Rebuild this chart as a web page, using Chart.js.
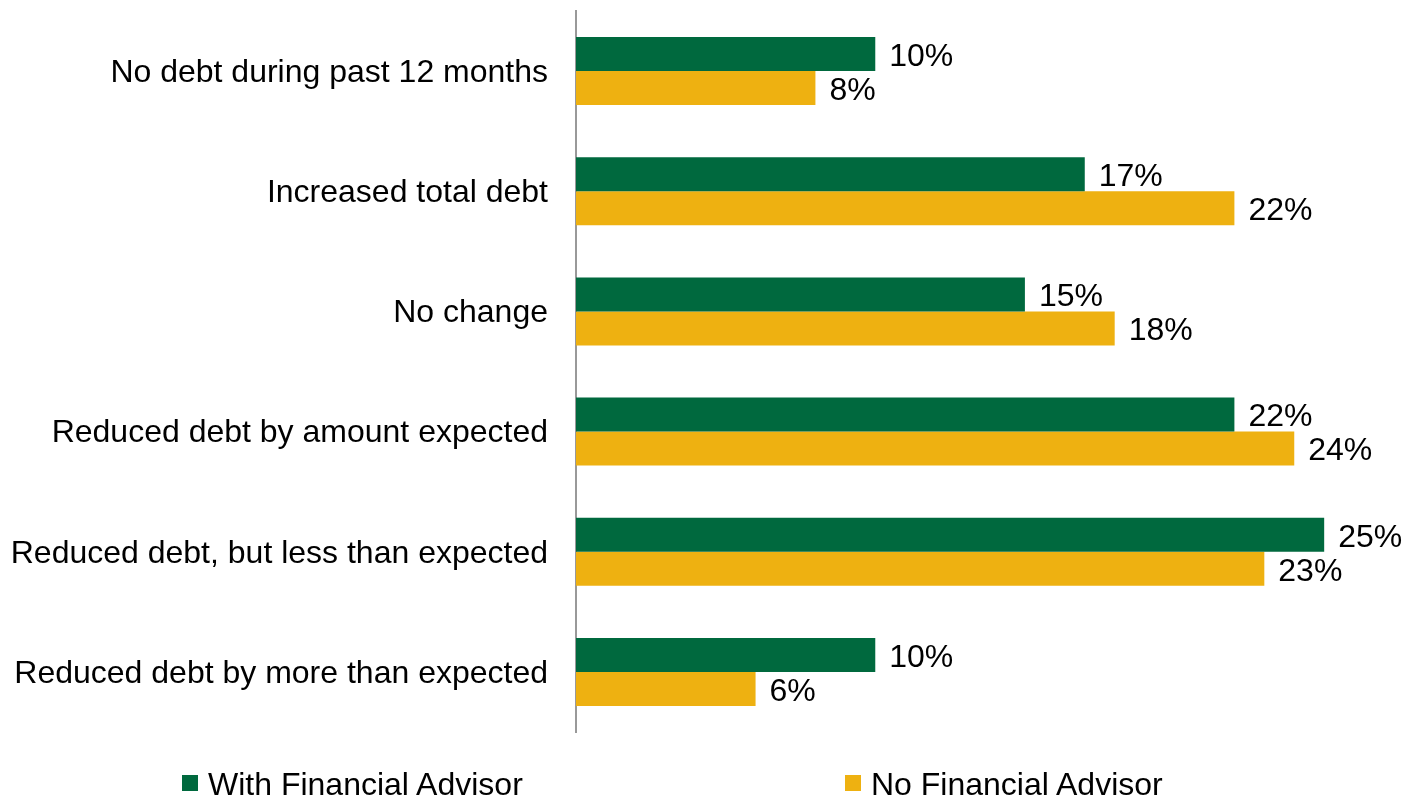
<!DOCTYPE html>
<html>
<head>
<meta charset="utf-8">
<script src="https://cdn.jsdelivr.net/npm/chart.js@4.4.1/dist/chart.umd.min.js"></script>
<style>
  html, body { margin: 0; padding: 0; background: #fff; }
  #wrap { position: relative; width: 1407px; height: 796px; overflow: hidden; }
  .legend-item { position: absolute; top: 768px; font: 32px "Liberation Sans", Arial, sans-serif; line-height: 32px; color: #000; white-space: nowrap; }
  .legend-item span { position: absolute; top: 7px; left: 0; width: 16px; height: 16px; }
  .legend-item b { font-weight: normal; position: absolute; left: 26px; top: 0; }
</style>
</head>
<body>
<div id="wrap">
  <canvas id="debtChart" width="1407" height="796"></canvas>
  <div id="legend"></div>
</div>
<script>
const categories = [
    'No debt during past 12 months',
    'Increased total debt',
    'No change',
    'Reduced debt by amount expected',
    'Reduced debt, but less than expected',
    'Reduced debt by more than expected'
];
const withAdvisor = [10, 17, 15, 22, 25, 10];
const noAdvisor = [8, 22, 18, 24, 23, 6];
const seriesNames = ['With Financial Advisor', 'No Financial Advisor'];
const seriesColors = ['#00693E', '#EEB111'];

// draws the "10%" labels just right of each bar
const valueLabels = {
    id: 'valueLabels',
    afterDatasetsDraw(chart) {
        const ctx = chart.ctx;
        ctx.save();
        ctx.font = '32px "Liberation Sans", Arial, sans-serif';
        ctx.fillStyle = '#000';
        ctx.textAlign = 'left';
        ctx.textBaseline = 'middle';
        chart.data.datasets.forEach((ds, i) => {
            chart.getDatasetMeta(i).data.forEach((bar, j) => {
                ctx.fillText(ds.data[j] + '%', bar.x + 14, bar.y + 3);
            });
        });
        ctx.restore();
    }
};

const ctx = document.getElementById('debtChart').getContext('2d');
new Chart(ctx, {
    type: 'bar',
    data: {
        labels: categories,
        datasets: [
            { label: seriesNames[0], data: withAdvisor, backgroundColor: seriesColors[0] },
            { label: seriesNames[1], data: noAdvisor, backgroundColor: seriesColors[1] }
        ]
    },
    options: {
        indexAxis: 'y',
        responsive: false,
        animation: false,
        categoryPercentage: 0.566,
        barPercentage: 1.0,
        layout: { padding: { top: 11, bottom: 64, right: 8, left: 0 } },
        plugins: {
            legend: { display: false },
            tooltip: { enabled: false }
        },
        scales: {
            x: {
                display: false,
                min: 0,
                max: 27.5
            },
            y: {
                grid: { display: false, drawTicks: false },
                border: { display: true, color: '#999999', width: 2 },
                ticks: {
                    padding: 28,
                    labelOffset: 2,
                    color: '#000',
                    font: { family: '"Liberation Sans", Arial, sans-serif', size: 32 }
                },
                afterFit(scale) {
                    scale.width = 576;
                    scale.paddingTop = 0;
                    scale.paddingBottom = 0;
                }
            }
        }
    },
    plugins: [valueLabels]
});

const legendLeft = [182, 845];
const legend = document.getElementById('legend');
seriesNames.forEach((name, i) => {
    const item = document.createElement('div');
    item.className = 'legend-item';
    item.style.left = legendLeft[i] + 'px';
    item.innerHTML = `<span style="background:${seriesColors[i]}"></span><b>${name}</b>`;
    legend.appendChild(item);
});
</script>
</body>
</html>
